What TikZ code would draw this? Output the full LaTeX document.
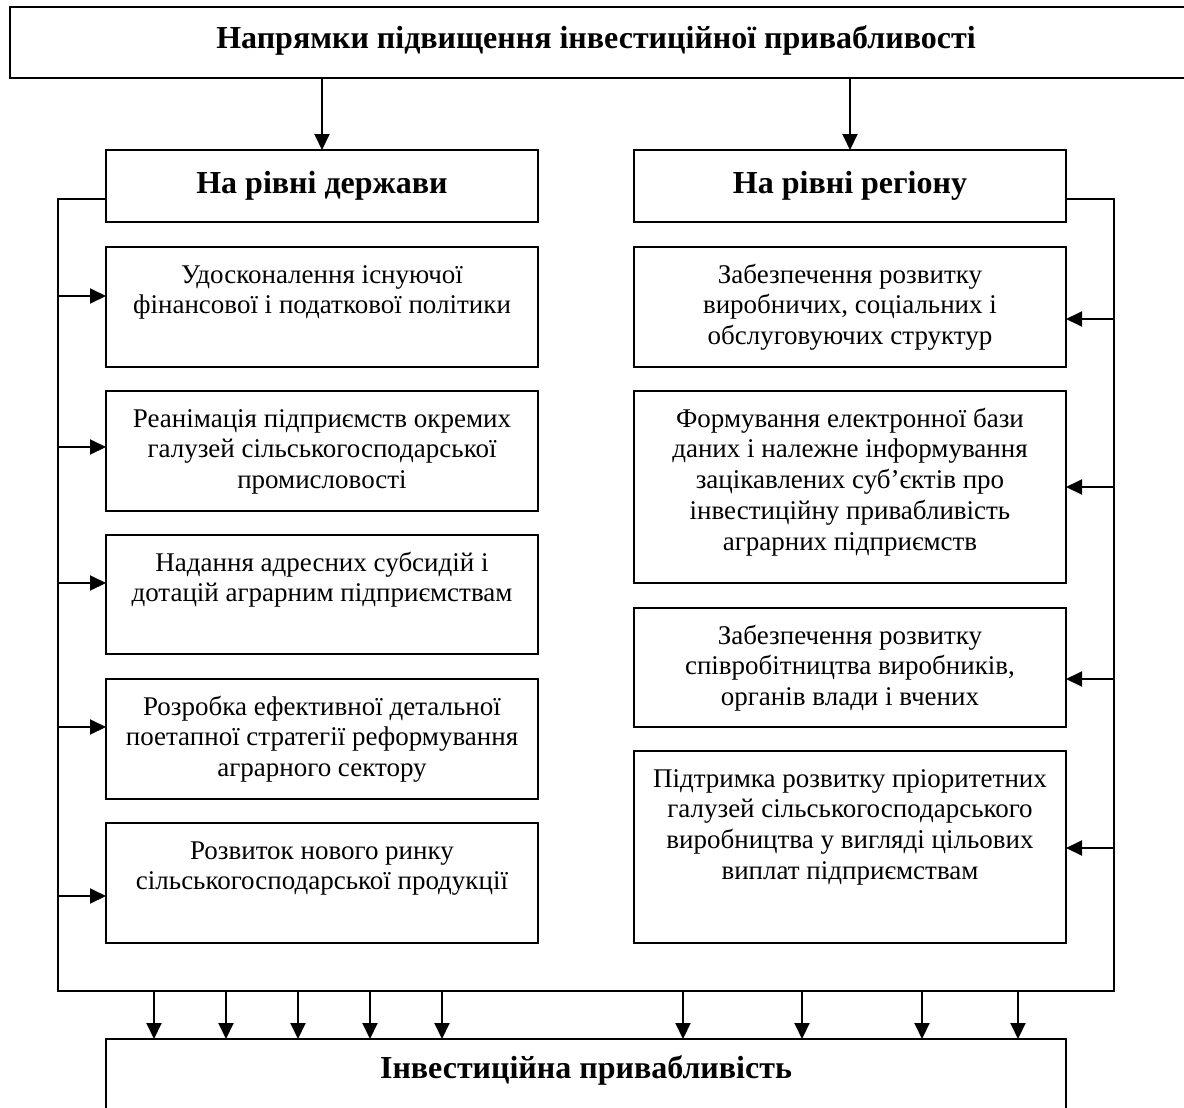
\documentclass[tikz,border=0pt]{standalone}
\usepackage{fontspec}
\setmainfont{Liberation Serif}
\usetikzlibrary{arrows.meta,calc}
\begin{document}
\begin{tikzpicture}[x=0.5pt,y=-0.5pt,
  box/.style={draw,line width=1pt,rectangle,inner sep=0pt,outer sep=0pt},
  hd/.style={font=\fontsize{16}{19}\selectfont\bfseries,inner sep=0pt,anchor=base},
  txt/.style={font=\fontsize{13.5}{15.4}\selectfont,inner sep=0pt,anchor=base},
  arr/.style={line width=1pt,-{Triangle[length=8pt,width=7.5pt]}},
  ln/.style={line width=1pt}]
\useasboundingbox (0,0) rectangle (1184,1108);
% top box (runs past the right edge)
\node[box,minimum width=595pt,minimum height=35.5pt] (top) at (605,42.5) {};
\node[hd] (toptext) at (596,48) {Напрямки підвищення інвестиційної привабливості};
% level headings
\node[box,minimum width=216pt,minimum height=36pt] (hdL) at (322,186) {};
\node[hd] (hdLt) at (322,193) {На рівні держави};
\node[box,minimum width=216pt,minimum height=36pt] (hdR) at (850,186) {};
\node[hd] (hdRt) at (850,193) {На рівні регіону};
% left boxes
\node[box,minimum width=216pt,minimum height=60pt] (L1) at (322,307) {};
\node[box,minimum width=216pt,minimum height=60pt] (L2) at (322,451) {};
\node[box,minimum width=216pt,minimum height=59.5pt] (L3) at (322,594.5) {};
\node[box,minimum width=216pt,minimum height=60pt] (L4) at (322,739) {};
\node[box,minimum width=216pt,minimum height=60pt] (L5) at (322,883) {};
\node[txt] (L1t) at ($(L1.north)+(0,36)$) {\parbox[t]{214pt}{\centering Удосконалення існуючої\\фінансової і податкової політики}};
\node[txt] (L2t) at ($(L2.north)+(0,36)$) {\parbox[t]{214pt}{\centering Реанімація підприємств окремих\\галузей сільськогосподарської\\промисловості}};
\node[txt] (L3t) at ($(L3.north)+(0,36)$) {\parbox[t]{214pt}{\centering Надання адресних субсидій і\\дотацій аграрним підприємствам}};
\node[txt] (L4t) at ($(L4.north)+(0,36)$) {\parbox[t]{214pt}{\centering Розробка ефективної детальної\\поетапної стратегії реформування\\аграрного сектору}};
\node[txt] (L5t) at ($(L5.north)+(0,36)$) {\parbox[t]{214pt}{\centering Розвиток нового ринку\\сільськогосподарської продукції}};
% right boxes
\node[box,minimum width=216pt,minimum height=60pt] (R1) at (850,307) {};
\node[box,minimum width=216pt,minimum height=96pt] (R2) at (850,487) {};
\node[box,minimum width=216pt,minimum height=59.5pt] (R3) at (850,667.5) {};
\node[box,minimum width=216pt,minimum height=96pt] (R4) at (850,847) {};
\node[txt] (R1t) at ($(R1.north)+(0,36)$) {\parbox[t]{214pt}{\centering Забезпечення розвитку\\виробничих, соціальних і\\обслуговуючих структур}};
\node[txt] (R2t) at ($(R2.north)+(0,36)$) {\parbox[t]{214pt}{\centering Формування електронної бази\\даних і належне інформування\\зацікавлених суб’єктів про\\інвестиційну привабливість\\аграрних підприємств}};
\node[txt] (R3t) at ($(R3.north)+(0,36)$) {\parbox[t]{214pt}{\centering Забезпечення розвитку\\співробітництва виробників,\\органів влади і вчених}};
\node[txt] (R4t) at ($(R4.north)+(0,36)$) {\parbox[t]{214pt}{\centering Підтримка розвитку пріоритетних\\галузей сільськогосподарського\\виробництва у вигляді цільових\\виплат підприємствам}};
% bottom box (runs past the bottom edge)
\node[box,minimum width=480pt,minimum height=45pt] (bot) at (586,1084) {};
\node[hd] (bott) at (586,1078) {Інвестиційна привабливість};
% top arrows
\draw[arr] (top.south -| hdL.north) -- (hdL.north);
\draw[arr] (top.south -| hdR.north) -- (hdR.north);
% frame
\coordinate (lt) at (58,199);
\coordinate (lb) at (58,991);
\coordinate (rb) at (1114,991);
\coordinate (rt) at (1114,199);
\draw[ln] (hdL.west |- lt) -- (lt) -- (lb) -- (rb) -- (rt) -- (hdR.east |- rt);
% left arrows
\foreach \b/\yy in {L1/296,L2/447,L3/583,L4/727,L5/896}{
  \coordinate (p\b) at (58,\yy);
  \draw[arr] (p\b) -- (p\b -| \b.west);
}
% right arrows
\foreach \b/\yy in {R1/319,R2/487,R3/679,R4/848}{
  \coordinate (p\b) at (1114,\yy);
  \draw[arr] (p\b) -- (p\b -| \b.east);
}
% bottom arrows
\foreach \xx [count=\i] in {154,226,298,370,442,683,802,922,1018}{
  \coordinate (q\i) at (\xx,991);
  \draw[arr] (q\i) -- (q\i |- bot.north);
}
\end{tikzpicture}
\end{document}
